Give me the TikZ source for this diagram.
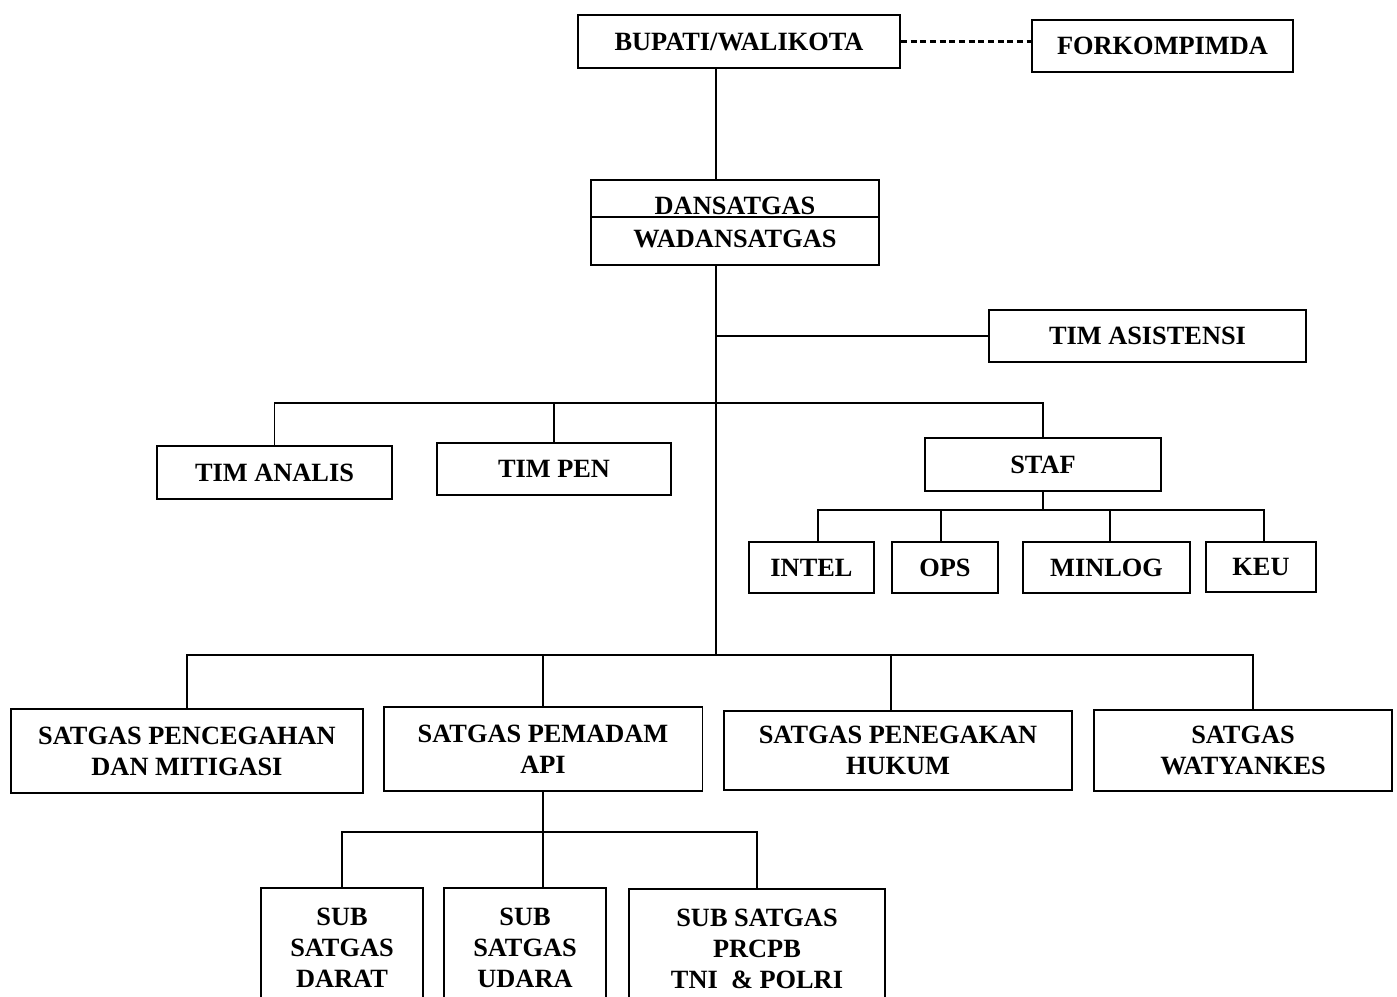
\documentclass[tikz,border=0pt]{standalone}
\usepackage{fontspec}
\setmainfont{Liberation Serif}
\tikzset{
  unit/.style={draw, line width=1.1pt, align=center, inner sep=0pt, fill=white,
    font=\fontsize{15}{17.6}\selectfont\bfseries},
  link/.style={line width=1pt}
}
\begin{document}
\begin{tikzpicture}[x=0.02cm, y=-0.02cm]
  \useasboundingbox[fill=white] (0,0) rectangle (1397,997);
  \node[unit, minimum width=6.44cm, minimum height=1.06cm] (bup) at (739,41.5) {BUPATI/WALIKOTA};
  \node[unit, minimum width=5.22cm, minimum height=1.04cm] (fork) at (1162.5,46) {FORKOMPIMDA};
  \node[unit, minimum width=5.76cm, minimum height=1.7cm] (dan) at (735,222.5) {DANSATGAS\\[1pt]WADANSATGAS};
  \node[unit, minimum width=6.34cm, minimum height=1.04cm] (tas) at (1147.5,336) {TIM ASISTENSI};
  \node[unit, minimum width=4.7cm, minimum height=1.06cm] (ana) at (274.5,472.5) {TIM ANALIS};
  \node[unit, minimum width=4.68cm, minimum height=1.04cm] (pen) at (554,469) {TIM PEN};
  \node[unit, minimum width=4.72cm, minimum height=1.06cm] (staf) at (1043,464.5) {STAF};
  \node[unit, minimum width=2.5cm, minimum height=1.02cm] (intel) at (811.5,567.5) {INTEL};
  \node[unit, minimum width=2.12cm, minimum height=1.02cm] (ops) at (945,567.5) {OPS};
  \node[unit, minimum width=3.34cm, minimum height=1.02cm] (minlog) at (1106.5,567.5) {MINLOG};
  \node[unit, minimum width=2.2cm, minimum height=1.0cm] (keu) at (1261,567) {KEU};
  \node[unit, minimum width=7.04cm, minimum height=1.68cm] (cegah) at (187,751) {SATGAS PENCEGAHAN\\DAN MITIGASI};
  \node[unit, minimum width=6.38cm, minimum height=1.68cm] (padam) at (543,749) {SATGAS PEMADAM\\API};
  \node[unit, minimum width=6.96cm, minimum height=1.58cm] (tegak) at (898,750.5) {SATGAS PENEGAKAN\\HUKUM};
  \node[unit, minimum width=5.96cm, minimum height=1.62cm] (watyan) at (1243,750.5) {SATGAS\\WATYANKES};
  \node[unit, minimum width=3.24cm, minimum height=2.4cm] (darat) at (342,948) {SUB\\SATGAS\\DARAT};
  \node[unit, minimum width=3.24cm, minimum height=2.4cm] (udara) at (525,948) {SUB\\SATGAS\\UDARA};
  \node[unit, minimum width=5.12cm, minimum height=2.4cm] (prcpb) at (757,949) {SUB SATGAS\\PRCPB\\TNI \ \& POLRI};
  \coordinate (j1) at (716,336);
  \coordinate (j2) at (716,403);
  \coordinate (j3) at (716,655);
  \coordinate (s1) at (1043,510);
  \coordinate (p1) at (543,832);
  \begin{scope}[link]
    \draw[line width=1.2pt, dash pattern=on 3.5pt off 2pt] (bup.east) to (bup.east -| fork.west);
    \draw (bup.south -| j1) to (dan.north -| j1);
    \draw ([yshift=0.11cm]dan.west) to ([yshift=0.11cm]dan.east);
    \draw (dan.south -| j1) to (j3);
    \draw (j1) to (tas.west);
    \draw (ana.north) |- (j2) -| (staf.north);
    \draw (pen.north) to (pen.north |- j2);
    \draw (staf.south) to (s1);
    \draw ([xshift=0.13cm]intel.north) |- (s1) -| ([xshift=0.06cm]keu.north);
    \draw ([xshift=-0.08cm]ops.north) to ([xshift=-0.08cm]ops.north |- s1);
    \draw ([xshift=0.07cm]minlog.north) to ([xshift=0.07cm]minlog.north |- s1);
    \draw (cegah.north) |- (j3) -| ([xshift=0.2cm]watyan.north);
    \draw (padam.north) to (padam.north |- j3);
    \draw ([xshift=-0.14cm]tegak.north) to ([xshift=-0.14cm]tegak.north |- j3);
    \draw (padam.south) to (udara.north -| p1);
    \draw (darat.north) |- (p1) -| (prcpb.north);
  \end{scope}
\end{tikzpicture}
\end{document}
